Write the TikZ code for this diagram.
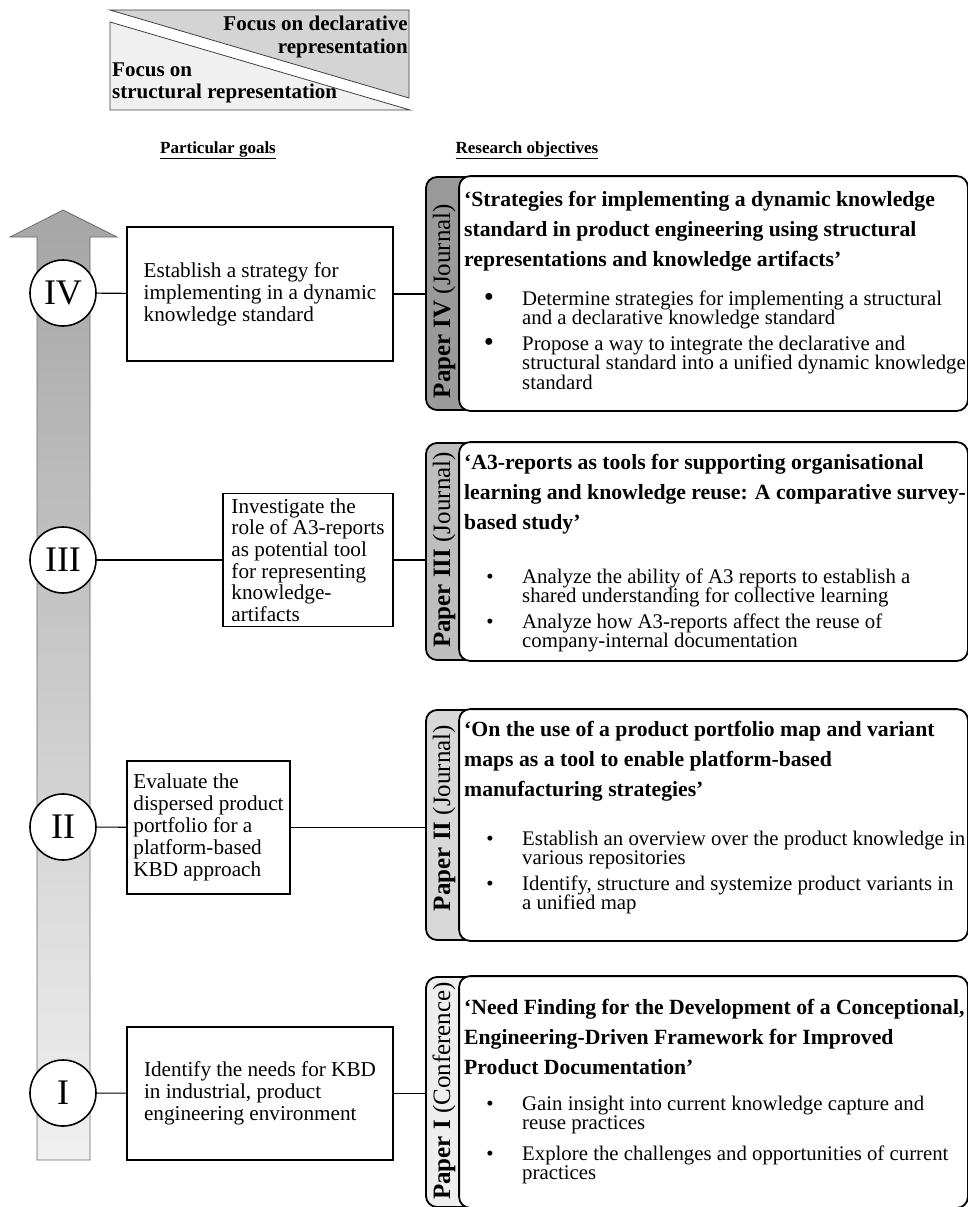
\documentclass[tikz,border=0pt]{standalone}
\usepackage{fontspec}
\setmainfont{Liberation Serif}
\usetikzlibrary{calc}

\definecolor{legdark}{HTML}{D4D4D4}
\definecolor{leglight}{HTML}{F0F0F0}
\definecolor{legline}{HTML}{404040}
\definecolor{arrtop}{HTML}{A6A6A6}
\definecolor{arrbot}{HTML}{F0F0F0}
\definecolor{tabIV}{HTML}{9A9A9A}
\definecolor{tabIII}{HTML}{BEBEBE}
\definecolor{tabII}{HTML}{D8D8D8}
\definecolor{tabI}{HTML}{EEEEEE}

% stacked lines whose baseline is the first line (exact line pitch)
\newcommand{\stk}[1]{\vtop{\lineskiplimit=-50pt\halign{##\hfil\cr#1\crcr}}}
\newcommand{\stkr}[1]{\vtop{\lineskiplimit=-50pt\halign{\hfil##\cr#1\crcr}}}

\newcommand{\goalfont}{\fontsize{21.2}{22}\selectfont}
\newcommand{\titlefont}{\fontsize{21.7}{30}\selectfont\bfseries}
\newcommand{\itemfont}{\fontsize{20.8}{19.5}\selectfont}
\newcommand{\tabfont}{\fontsize{25}{26}\selectfont}

\tikzset{
  stage/.style={circle, draw, line width=1.6pt, fill=white, minimum size=66pt, inner sep=0pt,
                font=\fontsize{36}{36}\selectfont},
  goalbox/.style={draw, line width=1.2pt, fill=white, align=left, inner sep=0pt, font=\goalfont},
  panel/.style={draw, line width=1.8pt, rounded corners=11pt, inner sep=0pt},
  inner/.style={draw, line width=1.8pt, rounded corners=11pt, fill=white},
  link/.style={line width=1.1pt},
  tablabel/.style={rotate=90, font=\tabfont, inner sep=0pt},
  ptitle/.style={anchor=base west, font=\titlefont, inner sep=0pt},
  pitem/.style={anchor=base west, font=\itemfont, inner sep=0pt},
  pdot/.style={anchor=base, font=\itemfont, inner sep=0pt},
  bigdot/.style={anchor=base, font=\fontsize{29}{20}\selectfont, inner sep=0pt},
  head/.style={font=\fontsize{17}{17}\selectfont\bfseries, inner sep=0pt},
  legtext/.style={font=\fontsize{21}{22}\selectfont\bfseries, inner sep=0pt},
}

\begin{document}
\begin{tikzpicture}[x=1pt, y=-1pt]
\useasboundingbox (0,0) rectangle (968,1207);

% legend: two opposed triangles
\draw[legline, line width=0.8pt, fill=legdark] (110,10) -- (409,10) -- (409,98) -- cycle;
\draw[legline, line width=0.8pt, fill=leglight] (110,22) -- (110,110) -- (410,110) -- cycle;
\node[legtext, anchor=base east] (legdecl) at (408,31) {\stkr{Focus on declarative\cr representation}};
\node[legtext, anchor=base west] (legstruct) at (112,77) {\stk{Focus on\cr structural representation}};

% column headings
\node[head] (hgoals) at (218,150) {\underline{Particular goals}};
\node[head] (hobj) at (527,150) {\underline{Research objectives}};

% rising arrow
\shade[top color=arrtop, bottom color=arrbot, draw=gray!80!black, line width=0.7pt]
  (37,1160) -- (37,237) -- (10,237) -- (63,210) -- (117,237) -- (90,237) -- (90,1160) -- cycle;

% stages
\node[stage] (cIV)  at (63,293)  {IV};
\node[stage] (cIII) at (63,560)  {III};
\node[stage] (cII)  at (63,827)  {II};
\node[stage] (cI)   at (63,1093) {I};

% particular goals
\node[goalbox, minimum width=266pt, minimum height=134pt] (gIV) at (260,294)
  {Establish a strategy for\\implementing in a dynamic\\knowledge standard};
\node[goalbox, minimum width=170pt, minimum height=133pt, font=\fontsize{21.2}{21.6}\selectfont] (gIII) at (308,560)
  {Investigate the\\role of A3-reports\\as potential tool\\for representing\\knowledge-\\artifacts};
\node[goalbox, minimum width=163pt, minimum height=133pt] (gII) at (208.5,827.5)
  {Evaluate the\\dispersed product\\portfolio for a\\platform-based\\KBD approach};
\node[goalbox, minimum width=266pt, minimum height=133pt] (gI) at (260,1093.5)
  {Identify the needs for KBD\\in industrial, product\\engineering environment};

% paper panels: grey tab with a white card on top
\node[panel, fill=tabIV,  minimum width=541pt, minimum height=233pt] (pIV)  at (696.5,293.5) {};
\node[panel, fill=tabIII, minimum width=541pt, minimum height=217pt] (pIII) at (696.5,551.5) {};
\node[panel, fill=tabII,  minimum width=541pt, minimum height=230pt] (pII)  at (696.5,825) {};
\node[panel, fill=tabI,   minimum width=541pt, minimum height=230pt] (pI)   at (696.5,1092) {};
\foreach \p in {pIV,pIII,pII,pI}
  \draw[inner] ($(\p.north west)+(34,0)$) rectangle (\p.south east);

\node[tablabel] (tIV)   at (444,301)  {\textbf{Paper IV} (Journal)};
\node[tablabel] (tIII)  at (444,550)  {\textbf{Paper III} (Journal)};
\node[tablabel] (tII)   at (444,818)  {\textbf{Paper II} (Journal)};
\node[tablabel] (tI)    at (444,1091) {\textbf{Paper I} (Conference)};

% connectors
\draw[link] (cIV) -- (gIV);   \draw[link] (gIV.east) -- (gIV.east -| pIV.west);
\draw[link] (cIII) -- (gIII); \draw[link] (gIII.east) -- (gIII.east -| pIII.west);
\draw[link] (cII) -- (gII);   \draw[link] (gII.east) -- (gII.east -| pII.west);
\draw[link] (cI) -- (gI);     \draw[link] (gI.east) -- (gI.east -| pI.west);

% Paper IV
\node[ptitle] (ttIV) at (464,206) {\stk{‘Strategies for implementing a dynamic knowledge\cr standard in product engineering using structural\cr representations and knowledge artifacts’}};
\node[bigdot] (dIV1) at (489,306) {•};
\node[pitem] (iIV1) at (522,305) {\stk{Determine strategies for implementing a structural\cr and a declarative knowledge standard}};
\node[bigdot] (dIV2) at (489,351) {•};
\node[pitem] (iIV2) at (522,350) {\stk{Propose a way to integrate the declarative and\cr structural standard into a unified dynamic knowledge\cr standard}};

% Paper III
\node[ptitle] (ttIII) at (464,469) {\stk{‘A3-reports as tools for supporting organisational\cr learning and knowledge reuse: A comparative survey-\cr based study’}};
\node[pdot] (dIII1) at (490,583) {•};
\node[pitem] (iIII1) at (522,583) {\stk{Analyze the ability of A3 reports to establish a\cr shared understanding for collective learning}};
\node[pdot] (dIII2) at (490,628) {•};
\node[pitem] (iIII2) at (522,628) {\stk{Analyze how A3-reports affect the reuse of\cr company-internal documentation}};

% Paper II
\node[ptitle] (ttII) at (464,736) {\stk{‘On the use of a product portfolio map and variant\cr maps as a tool to enable platform-based\cr manufacturing strategies’}};
\node[pdot] (dII1) at (490,845) {•};
\node[pitem] (iII1) at (522,845) {\stk{Establish an overview over the product knowledge in\cr various repositories}};
\node[pdot] (dII2) at (490,890) {•};
\node[pitem] (iII2) at (522,890) {\stk{Identify, structure and systemize product variants in\cr a unified map}};

% Paper I
\node[ptitle] (ttI) at (464,1014) {\stk{‘Need Finding for the Development of a Conceptional,\cr Engineering-Driven Framework for Improved\cr Product Documentation’}};
\node[pdot] (dI1) at (490,1110) {•};
\node[pitem] (iI1) at (522,1110) {\stk{Gain insight into current knowledge capture and\cr reuse practices}};
\node[pdot] (dI2) at (490,1160) {•};
\node[pitem] (iI2) at (522,1160) {\stk{Explore the challenges and opportunities of current\cr practices}};
\end{tikzpicture}
\end{document}
